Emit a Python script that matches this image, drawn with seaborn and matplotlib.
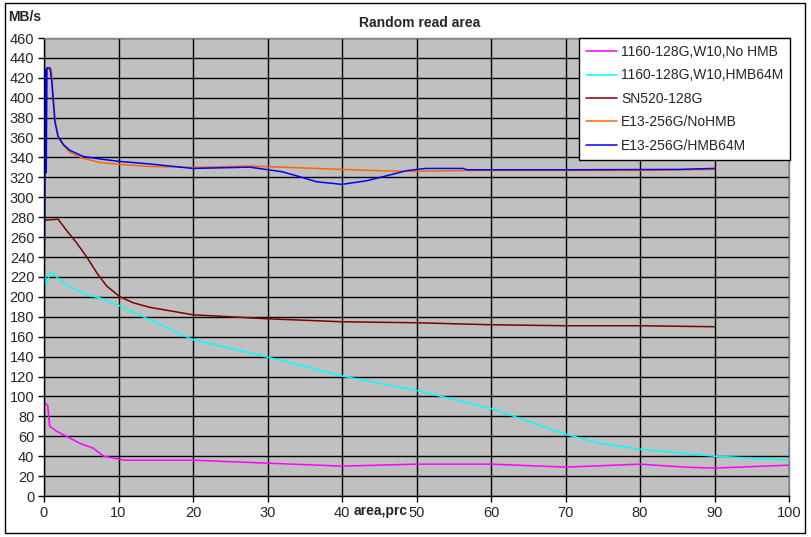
import numpy as np
import pandas as pd
import seaborn as sns
import matplotlib.pyplot as plt
from matplotlib.patches import Rectangle

# series (area %, MB/s)
magenta_x = [0, 0.5, 0.76, 1.7, 3.0, 4.8, 6.6, 8.0, 9.8, 10.8, 20, 30, 40, 50, 60, 70, 80, 86, 90, 95, 100]
magenta_y = [94, 91, 70, 65, 60, 53, 48, 40, 37.5, 36, 36, 33, 30, 32, 32, 29, 32, 29, 28, 29.5, 31]

cyan_x = [0, 0.3, 0.8, 1.2, 3.0, 5.7, 7.5, 10.2, 14.2, 20, 30, 40, 50, 60, 70, 74.6, 80, 90, 100]
cyan_y = [228, 213, 224, 223, 212, 202, 199, 191, 177, 157, 139.5, 120.5, 106, 88, 62, 53, 47, 40, 36]

red_x = [0, 1.9, 3.0, 4.4, 5.7, 7.1, 8.4, 10.2, 12, 14.2, 20, 30, 40, 50, 60, 70, 80, 90]
red_y = [277, 278, 267, 254, 240.5, 224, 211, 200, 194, 189.5, 182, 178, 175, 174, 172, 171, 171, 170]

orange_x = [0, 0.3, 1.0, 1.25, 1.5, 1.9, 2.6, 3.5, 5.3, 7.5, 10.2, 14.2, 20, 27.6, 33, 40, 45, 50, 57, 60, 70, 80, 90]
orange_y = [428, 430, 428, 400, 378, 360, 352, 345, 339, 335, 333, 331, 330, 331.4, 330, 328, 326.7, 326, 327, 327, 327, 327, 328]

blue_x = [0, 0.1, 0.2, 0.3, 0.4, 0.8, 1.03, 1.25, 1.48, 1.9, 2.6, 3.5, 5.3, 7.5, 10.2, 14.2, 20, 27.6, 32,
          34.4, 36.6, 40, 43.3, 46.4, 48.7, 51.3, 56.2, 56.8, 70, 85, 90]
blue_y = [212, 284, 428, 325, 430, 430, 418, 396, 375, 361, 353, 347, 341, 338.5, 336, 333.5, 329, 330.3, 325.6,
          320.5, 315.6, 313, 316.6, 322.4, 326.8, 329, 329, 327.6, 327.6, 328, 329]

series = [
    ('1160-128G,W10,No HMB', magenta_x, magenta_y, '#FF00FF'),
    ('1160-128G,W10,HMB64M', cyan_x, cyan_y, '#00FFFF'),
    ('SN520-128G', red_x, red_y, '#800000'),
    ('E13-256G/NoHMB', orange_x, orange_y, '#FF6600'),
    ('E13-256G/HMB64M', blue_x, blue_y, '#0000FF'),
]

sns.set_style('ticks')
plt.rcParams['font.family'] = ['Liberation Sans', 'DejaVu Sans']

fig = plt.figure(figsize=(8.11, 5.37), dpi=100)
ax = fig.add_axes([44 / 811, 41 / 537, 745 / 811, 458 / 537])
ax.set_facecolor('#C0C0C0')

for name, xs, ys, col in series:
    df = pd.DataFrame({'x': xs, 'y': ys})
    sns.lineplot(data=df, x='x', y='y', color=col, label=name, ax=ax, linewidth=1.1,
                 sort=False, estimator=None)

ax.set_xlim(0, 100)
ax.set_ylim(0, 460)
ax.set_xticks(np.arange(0, 101, 10))
ax.set_yticks(np.arange(0, 461, 20))
ax.grid(True, color='black', linewidth=1)
ax.set_axisbelow(True)
ax.tick_params(direction='out', length=4, width=1, color='black', labelsize=10.5, pad=3)
for side in ['left', 'bottom']:
    ax.spines[side].set_color('black')
    ax.spines[side].set_linewidth(1)
for side in ['top', 'right']:
    ax.spines[side].set_color('#808080')
    ax.spines[side].set_linewidth(1)
ax.set_xlabel('')
ax.set_ylabel('')

fig.text(420 / 811, 1 - 23 / 537, 'Random read area', ha='center', va='center',
         fontsize=10, fontweight='bold')
fig.text(8 / 811, 1 - 17 / 537, 'MB/s', ha='left', va='center', fontsize=10, fontweight='bold')
fig.text(381 / 811, 1 - 511 / 537, 'area,prc', ha='center', va='center', fontsize=10, fontweight='bold')

leg = ax.legend(loc='upper right', bbox_to_anchor=(1.0015, 1.0), borderaxespad=0, fontsize=10,
                frameon=True, fancybox=False, handlelength=2.2, labelspacing=0.68,
                borderpad=0.5, handletextpad=0.3)
leg.get_frame().set_edgecolor('black')
leg.get_frame().set_facecolor('white')
leg.get_frame().set_linewidth(1)
leg.get_frame().set_alpha(1)

fig.patches.append(Rectangle((5 / 811, 4 / 537), 800 / 811, 530 / 537, transform=fig.transFigure,
                             fill=False, edgecolor='black', linewidth=1))

fig.savefig('out.png', dpi=100)
